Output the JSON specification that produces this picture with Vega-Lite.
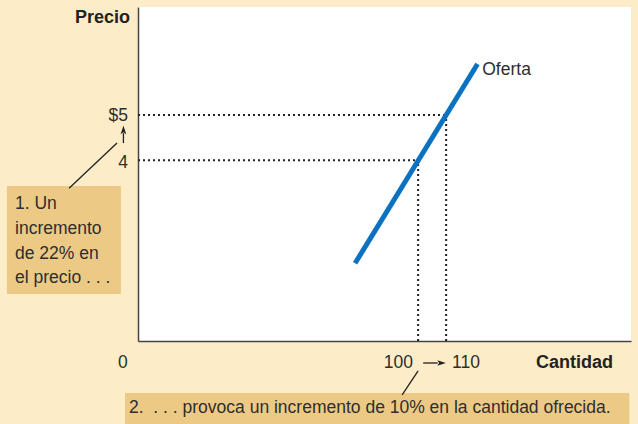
{
  "$schema": "https://vega.github.io/schema/vega-lite/v6.json",
  "width": 493,
  "height": 334,
  "autosize": {"type": "none"},
  "padding": {"left": 138, "top": 7, "right": 7, "bottom": 83},
  "background": "#fdecc8",
  "config": {
    "view": {"fill": "white", "stroke": null},
    "axis": {"labels": false, "ticks": false, "grid": false, "title": null, "domainColor": "#444444", "domainWidth": 1.5},
    "text": {"font": "Liberation Sans", "fontSize": 17.5, "color": "#2e2e2e"}
  },
  "datasets": {
    "boxes": [
      {"x": -46.8, "x2": -6.1, "y": 3.43, "y2": 1.04},
      {"x": -4.64, "x2": 175.4, "y": -1.15, "y2": -1.84}
    ],
    "dots": [
      {"x": 0, "x2": 110, "y": 5, "y2": 5},
      {"x": 0, "x2": 100, "y": 4, "y2": 4},
      {"x": 100, "x2": 100, "y": 0, "y2": 4},
      {"x": 110, "x2": 110, "y": 0, "y2": 5}
    ],
    "supply": [
      {"q": 77.5, "p": 1.72},
      {"q": 121.2, "p": 6.13}
    ],
    "leaders": [
      {"x": -24.6, "y": 3.38, "x2": -7.5, "y2": 4.38},
      {"x": 94.3, "y": -1.19, "x2": 100, "y2": -0.66},
      {"x": -5.2, "y": 4.38, "x2": -5.2, "y2": 4.6},
      {"x": 101.8, "y": -0.487, "x2": 107.0, "y2": -0.487}
    ],
    "heads": [
      {"x": -5.2, "y": 4.66, "angle": 0},
      {"x": 108.2, "y": -0.487, "angle": 90}
    ],
    "rightText": [
      {"t": "$5", "x": -3.57, "y": 4.87},
      {"t": "4", "x": -3.57, "y": 3.83},
      {"t": "100", "x": 98.2, "y": -0.6}
    ],
    "leftText": [
      {"t": "0", "x": -7.1, "y": -0.6},
      {"t": "110", "x": 112.1, "y": -0.6},
      {"t": "Oferta", "x": 122.9, "y": 5.88},
      {"t": "1. Un", "x": -43.9, "y": 2.92},
      {"t": "incremento", "x": -43.9, "y": 2.37},
      {"t": "de 22% en", "x": -43.9, "y": 1.81},
      {"t": "el precio . . .", "x": -43.9, "y": 1.28},
      {"t": "2.\u00a0\u00a0. . . provoca un incremento de 10% en la cantidad ofrecida.", "x": -3.2, "y": -1.59}
    ],
    "boldText": [
      {"t": "Precio", "x": -2.86, "y": 7.035},
      {"t": "Cantidad", "x": 169.6, "y": -0.6}
    ]
  },
  "layer": [
    {
      "data": {"name": "boxes"},
      "mark": {"type": "rect", "color": "#ecca86"},
      "encoding": {
        "x": {"field": "x", "type": "quantitative", "scale": {"domain": [0, 176], "nice": false, "zero": false}, "axis": {"domain": true}},
        "x2": {"field": "x2"},
        "y": {"field": "y", "type": "quantitative", "scale": {"domain": [0, 7.39], "nice": false, "zero": false}, "axis": {"domain": true}},
        "y2": {"field": "y2"}
      }
    },
    {
      "data": {"name": "dots"},
      "mark": {"type": "rule", "color": "#222222", "strokeWidth": 2, "strokeDash": [2, 3]},
      "encoding": {
        "x": {"field": "x", "type": "quantitative"},
        "x2": {"field": "x2"},
        "y": {"field": "y", "type": "quantitative"},
        "y2": {"field": "y2"}
      }
    },
    {
      "data": {"name": "supply"},
      "mark": {"type": "line", "color": "#0a72c0", "strokeWidth": 5, "strokeCap": "butt"},
      "encoding": {
        "x": {"field": "q", "type": "quantitative"},
        "y": {"field": "p", "type": "quantitative"}
      }
    },
    {
      "data": {"name": "leaders"},
      "mark": {"type": "rule", "color": "#222222", "strokeWidth": 1.3},
      "encoding": {
        "x": {"field": "x", "type": "quantitative"},
        "x2": {"field": "x2"},
        "y": {"field": "y", "type": "quantitative"},
        "y2": {"field": "y2"}
      }
    },
    {
      "data": {"name": "heads"},
      "mark": {"type": "point", "filled": true, "color": "#222222", "opacity": 1, "shape": "M0,-1L0.6,0.8L0,0.4L-0.6,0.8Z", "size": 90},
      "encoding": {
        "x": {"field": "x", "type": "quantitative"},
        "y": {"field": "y", "type": "quantitative"},
        "angle": {"field": "angle", "type": "quantitative", "scale": null}
      }
    },
    {
      "data": {"name": "rightText"},
      "mark": {"type": "text", "align": "right", "baseline": "alphabetic"},
      "encoding": {
        "x": {"field": "x", "type": "quantitative"},
        "y": {"field": "y", "type": "quantitative"},
        "text": {"field": "t"}
      }
    },
    {
      "data": {"name": "leftText"},
      "mark": {"type": "text", "align": "left", "baseline": "alphabetic"},
      "encoding": {
        "x": {"field": "x", "type": "quantitative"},
        "y": {"field": "y", "type": "quantitative"},
        "text": {"field": "t"}
      }
    },
    {
      "data": {"name": "boldText"},
      "mark": {"type": "text", "align": "right", "baseline": "alphabetic", "fontWeight": "bold", "fontSize": 18, "color": "#222222"},
      "encoding": {
        "x": {"field": "x", "type": "quantitative"},
        "y": {"field": "y", "type": "quantitative"},
        "text": {"field": "t"}
      }
    }
  ]
}
